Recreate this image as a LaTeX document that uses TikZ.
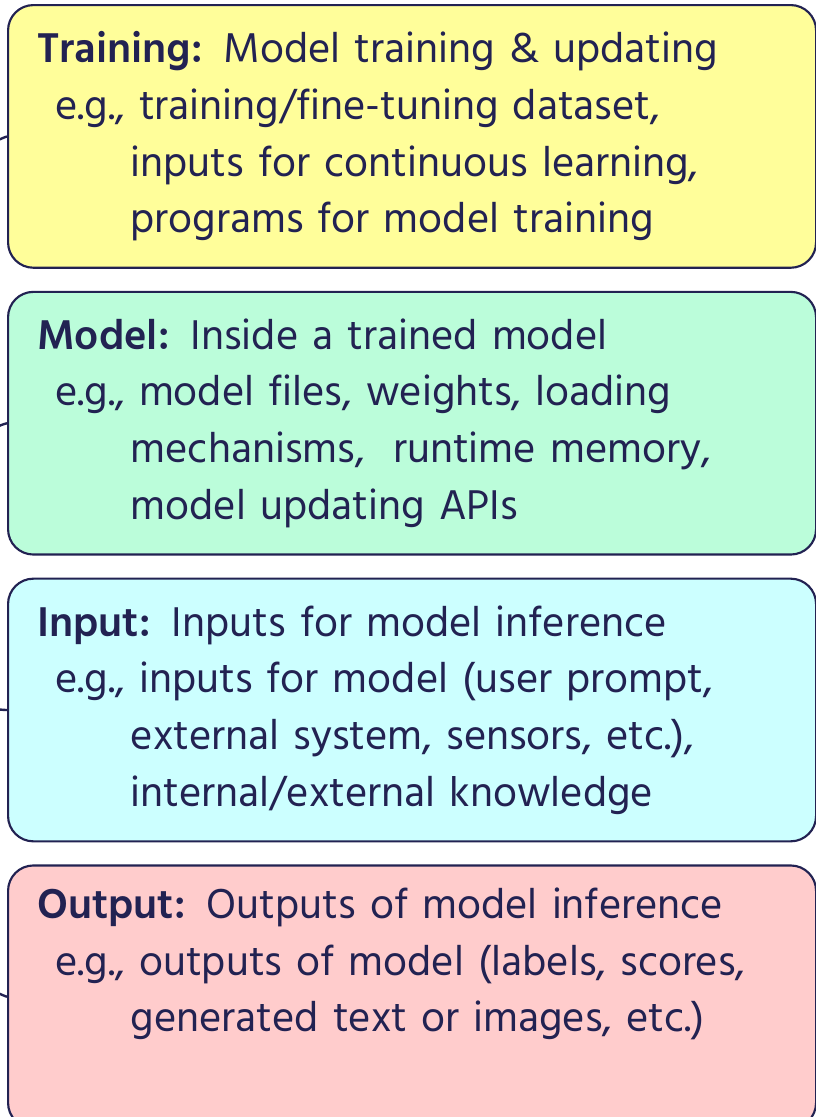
\documentclass[tikz,border=0pt]{standalone}
\usepackage{fontspec}
\setmainfont{Hind Madurai}
\usepackage{xcolor}
\usetikzlibrary{positioning}
\definecolor{ink}{HTML}{222252}
\definecolor{trainfill}{HTML}{FFFE9A}
\definecolor{modelfill}{HTML}{BBFDDA}
\definecolor{inputfill}{HTML}{CCFFFF}
\definecolor{outputfill}{HTML}{FFCCCC}

\begin{document}
\begin{tikzpicture}[
  x=0.75pt, y=-0.75pt,
  every node/.style={font=\fontsize{32pt}{42.5pt}\selectfont, text=ink},
  area/.style={
    rectangle, rounded corners=19pt, draw=ink, line width=1.6pt,
    minimum width=606pt, minimum height=197pt,
    text width=574pt, align=left, inner xsep=16pt, inner ysep=0pt,
  },
  link/.style={draw=ink, line width=1.8pt},
  node distance=16.5pt,
]
\useasboundingbox (0,0) rectangle (816,1117);

\node[area, fill=trainfill, anchor=north west] (train) at (7,4) {%
  \hspace*{6pt}\textbf{Training:} Model training \& updating\\
  \hspace*{19.5pt}e.g., training/fine-tuning dataset,\\
  \hspace*{76pt}inputs for continuous learning,\\
  \hspace*{76pt}programs for model training};

\node[area, fill=modelfill, below=of train] (model) {%
  \hspace*{6pt}\textbf{Model:} Inside a trained model\\
  \hspace*{19.5pt}e.g., model files, weights, loading\\
  \hspace*{76pt}mechanisms,\ \ runtime memory,\\
  \hspace*{76pt}model updating APIs};

\node[area, fill=inputfill, below=of model] (input) {%
  \hspace*{6pt}\textbf{Input:} Inputs for model inference\\
  \hspace*{19.5pt}e.g., inputs for model (user prompt,\\
  \hspace*{76pt}external system, sensors, etc.),\\
  \hspace*{76pt}internal/external knowledge};

\node[area, fill=outputfill, below=of input] (output) {%
  \hspace*{6pt}\textbf{Output:} Outputs of model inference\\
  \hspace*{19.5pt}e.g., outputs of model (labels, scores,\\
  \hspace*{76pt}generated text or images, etc.)\\
  \strut};

% branches coming in from the tree on the left
\coordinate (hub) at (-110,560);
\draw[link] (hub) to[out=0, in=200] (train.west);
\draw[link] (hub) to[out=0, in=195] (model.west);
\draw[link] (hub) to[out=0, in=180] (input.west);
\draw[link] (hub) to[out=0, in=160] (output.west);
\end{tikzpicture}
\end{document}
